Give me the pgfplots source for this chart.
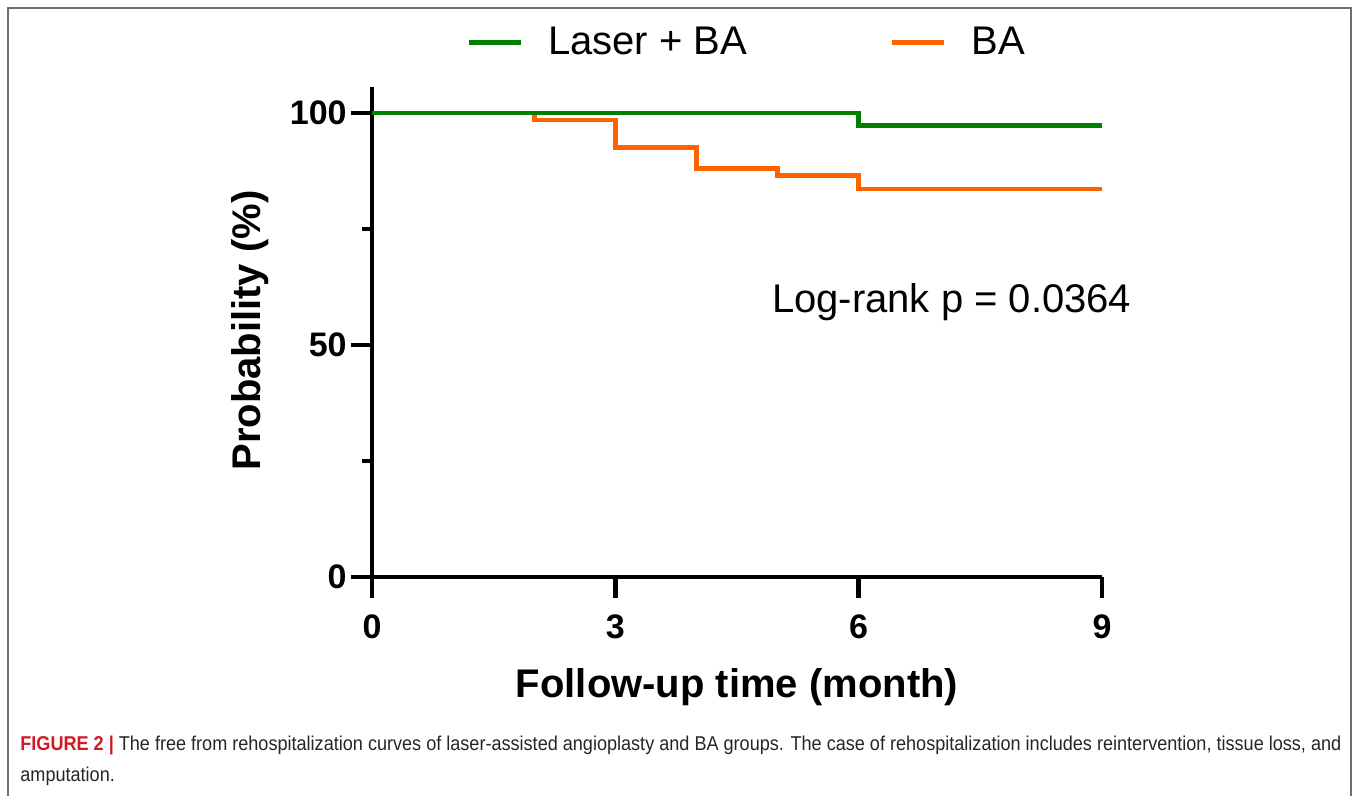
\documentclass[border=0pt]{standalone}
\usepackage{fontspec}
\setmainfont{Liberation Sans}
\usepackage{pgfplots}
\pgfplotsset{compat=1.18}
\usepackage{graphicx}
\definecolor{kmgreen}{RGB}{0,128,0}
\definecolor{kmorange}{RGB}{255,99,0}
\definecolor{figred}{RGB}{210,25,35}
\definecolor{framegray}{RGB}{110,110,110}
\newsavebox\capone
\newsavebox\captwo
\newlength\capw
\begin{document}%
\sbox\capone{\fontsize{10}{12}\selectfont\color{black!85}\textcolor{figred}{\bfseries FIGURE 2 |} The free from rehospitalization curves of laser-assisted angioplasty and BA groups. The case of rehospitalization includes reintervention, tissue loss, and}%
\sbox\captwo{\fontsize{10}{12}\selectfont\color{black!85}amputation.}%
\setlength\capw{\wd\capone}%
\pgfmathsetmacro\capsx{660.5pt/\capw}%
\begin{tikzpicture}
\path[use as bounding box] (0pt,0pt) rectangle (678.5pt,-398pt);
\draw[framegray, line width=1pt] (3.8pt,-400pt) -- (3.8pt,-4.1pt) -- (675.3pt,-4.1pt) -- (675.3pt,-400pt);
\begin{axis}[
  scale only axis, width=365pt, height=245pt,
  at={(186pt,-288.5pt)}, anchor=south west,
  xmin=0, xmax=9, ymin=0, ymax=105.6,
  axis x line=bottom, axis y line=left,
  axis line style={-, line width=2.4pt, black},
  every outer x axis line/.append style={-},
  every outer y axis line/.append style={-},
  xtick={0,3,6,9}, ytick={0,50,100}, minor ytick={25,75},
  tick align=outside, major tick length=10.5pt, minor tick length=5pt,
  tick style={black, line width=2.4pt},
  minor tick style={black, line width=2.4pt},
  ticklabel style={font=\bfseries\fontsize{17}{17}\selectfont},
  /pgf/number format/assume math mode=true,
  yticklabel style={inner sep=0pt, xshift=-2pt},
  xticklabel style={inner sep=0pt, yshift=-8pt},
  xlabel={Follow-up time (month)}, ylabel={Probability (\%)},
  label style={font=\bfseries\fontsize{20}{20}\selectfont},
  xlabel style={at={(axis description cs:0.5,-0.2449)}, anchor=base, inner sep=0pt},
  ylabel style={at={(axis description cs:-0.153,0.503)}, anchor=base, inner sep=0pt},
  legend columns=2,
  legend style={at={(axis description cs:0.1288,1.0904)}, anchor=west, draw=none, fill=none,
    inner sep=0pt, font=\fontsize{20}{20}\selectfont, nodes={inner sep=0pt},
    /tikz/every odd column/.append style={column sep=12.5pt},
    /tikz/every even column/.append style={column sep=71.5pt}},
  legend image code/.code={\draw[#1, line width=2.3pt] (0pt,0pt) -- (26pt,0pt);},
  clip=false,
]
\addplot[kmorange, line width=2.3pt, const plot, forget plot] coordinates {
  (0,100) (2,98.5) (3,92.5) (4,88.1) (5,86.5) (6,83.6) (9,83.6)};
\addplot[kmgreen, line width=2.3pt, const plot] coordinates {
  (0,100) (6,97.3) (9,97.3)};
\addlegendentry{Laser + BA}
\addlegendimage{kmorange, line width=2.3pt}
\addlegendentry{BA}
\node[anchor=base west, inner sep=0pt, font=\fontsize{20}{20}\selectfont] at (axis cs:4.928,57.1) {Log-rank p = 0.0364};
\end{axis}
\node[anchor=base west, inner sep=0pt] at (10pt,-375.5pt) {\scalebox{\capsx}[1]{\usebox\capone}};
\node[anchor=base west, inner sep=0pt] at (10pt,-391pt) {\scalebox{\capsx}[1]{\usebox\captwo}};
\end{tikzpicture}%
\end{document}
